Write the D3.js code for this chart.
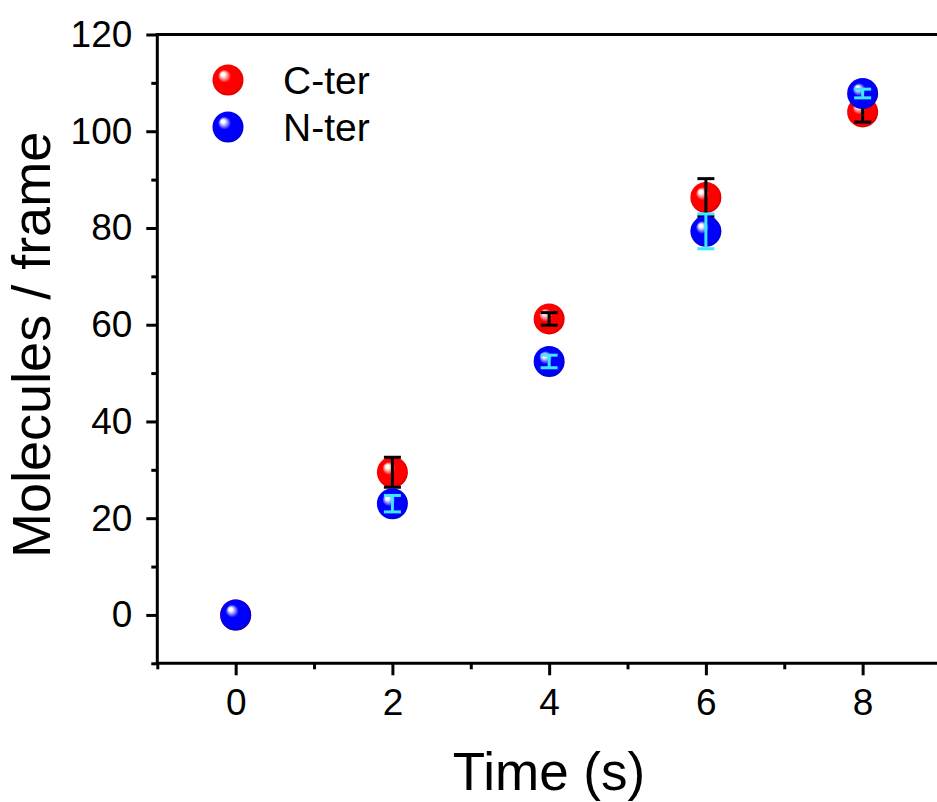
<!DOCTYPE html>
<html>
<head>
<meta charset="utf-8">
<script src="https://cdn.jsdelivr.net/npm/d3@7"></script>
<style>
  html, body { margin: 0; padding: 0; background: #fff; }
  svg { display: block; font-family: "Liberation Sans", Arial, sans-serif; }
</style>
</head>
<body>
<script>
// Time points (s)
const times = [0, 2, 4, 6, 8];
// C-terminal labelling: mean molecules per frame and error
const cterValues = [0, 29.5, 61.2, 86.3, 104.0];
const cterErrors = [0, 3.1, 1.3, 3.9, 2.1];
// N-terminal labelling
const nterValues = [0, 23.0, 52.4, 79.3, 107.8];
const nterErrors = [0, 1.7, 1.3, 3.6, 0.9];

const xTicks = [0, 2, 4, 6, 8];
const xMinorTicks = [-1, 1, 3, 5, 7, 9];
const yTicks = [0, 20, 40, 60, 80, 100, 120];
const yMinorTicks = [-10, 10, 30, 50, 70, 90, 110];

const seriesNames = ["C-ter", "N-ter"];

const W = 937, H = 802;
const svg = d3.select("body").append("svg").attr("width", W).attr("height", H);

const x = d3.scaleLinear().domain([-1, 9]).range([157.3, 941]);
const y = d3.scaleLinear().domain([-10, 120]).range([663.3, 34.5]);

// sphere-like gradients
const defs = svg.append("defs");
function sphere(id, base, edge) {
  const g = defs.append("radialGradient").attr("id", id)
    .attr("cx", "50%").attr("cy", "50%").attr("r", "55%")
    .attr("fx", "32%").attr("fy", "30%");
  g.append("stop").attr("offset", "0%").attr("stop-color", "#ffffff");
  g.append("stop").attr("offset", "10%").attr("stop-color", "#ffffff").attr("stop-opacity", 0.9);
  g.append("stop").attr("offset", "38%").attr("stop-color", base);
  g.append("stop").attr("offset", "80%").attr("stop-color", base);
  g.append("stop").attr("offset", "100%").attr("stop-color", edge);
}
sphere("gRed", "#ff0000", "#c80000");
sphere("gBlue", "#0000ff", "#0000b4");

const R = 15.5;
const capW = 8.5;

const cter = times.map((t, i) => ({ t, v: cterValues[i], e: cterErrors[i] }));
const nter = times.map((t, i) => ({ t, v: nterValues[i], e: nterErrors[i] }));

function drawMarkers(data, fill) {
  svg.append("g").selectAll("circle").data(data).join("circle")
    .attr("cx", d => x(d.t)).attr("cy", d => y(d.v)).attr("r", R)
    .attr("fill", fill);
}
function drawErrors(data, color) {
  const g = svg.append("g").attr("stroke", color).attr("stroke-width", 3).attr("fill", "none");
  const d0 = data.filter(d => d.e > 0);
  g.selectAll("line.v").data(d0).join("line").attr("class", "v")
    .attr("x1", d => x(d.t)).attr("x2", d => x(d.t))
    .attr("y1", d => y(d.v - d.e)).attr("y2", d => y(d.v + d.e));
  g.selectAll("line.t").data(d0).join("line").attr("class", "t")
    .attr("x1", d => x(d.t) - capW).attr("x2", d => x(d.t) + capW)
    .attr("y1", d => y(d.v + d.e)).attr("y2", d => y(d.v + d.e));
  g.selectAll("line.b").data(d0).join("line").attr("class", "b")
    .attr("x1", d => x(d.t) - capW).attr("x2", d => x(d.t) + capW)
    .attr("y1", d => y(d.v - d.e)).attr("y2", d => y(d.v - d.e));
}

drawMarkers(cter, "url(#gRed)");
drawErrors(cter, "#000000");
drawMarkers(nter, "url(#gBlue)");
drawErrors(nter, "#3fe6ff");

// axes
const axisStroke = 3;
const xAxis = svg.append("g").attr("transform", `translate(0,${y(-10)})`)
  .call(d3.axisBottom(x).tickValues(xTicks).tickSize(12).tickPadding(13).tickFormat(d3.format("d")));
const xMinor = svg.append("g").attr("transform", `translate(0,${y(-10)})`)
  .call(d3.axisBottom(x).tickValues(xMinorTicks).tickSize(6).tickFormat(""));
const yAxis = svg.append("g").attr("transform", `translate(${x(-1)},0)`)
  .call(d3.axisLeft(y).tickValues(yTicks).tickSize(11).tickPadding(14).tickFormat(d3.format("d")));
const yMinor = svg.append("g").attr("transform", `translate(${x(-1)},0)`)
  .call(d3.axisLeft(y).tickValues(yMinorTicks).tickSize(6).tickFormat(""));

[xAxis, xMinor, yAxis, yMinor].forEach(a => {
  a.select(".domain").remove();
  a.selectAll(".tick line").attr("stroke", "#000").attr("stroke-width", axisStroke);
  a.selectAll(".tick text").attr("fill", "#000").attr("font-size", 37)
    .attr("font-family", "'Liberation Sans', Arial, sans-serif");
});

// frame lines
const frame = svg.append("g").attr("stroke", "#000").attr("stroke-width", axisStroke)
  .attr("stroke-linecap", "square");
frame.append("line").attr("x1", x(-1)).attr("x2", x(9)).attr("y1", y(-10)).attr("y2", y(-10));
frame.append("line").attr("x1", x(-1)).attr("x2", x(-1)).attr("y1", y(-10)).attr("y2", y(120));
frame.append("line").attr("x1", x(-1)).attr("x2", x(9)).attr("y1", y(120)).attr("y2", y(120));
frame.append("line").attr("x1", x(9)).attr("x2", x(9)).attr("y1", y(-10)).attr("y2", y(120));

// axis titles
svg.append("text").attr("x", 549).attr("y", 790)
  .attr("text-anchor", "middle").attr("font-size", 53).attr("fill", "#000")
  .text("Time (s)");
svg.append("text")
  .attr("transform", `translate(50,${(y(-10) + y(120)) / 2 - 4}) rotate(-90)`)
  .attr("text-anchor", "middle").attr("font-size", 54).attr("fill", "#000")
  .text("Molecules / frame");

// legend
const legend = svg.append("g");
const legendFills = ["url(#gRed)", "url(#gBlue)"];
const legendY = [80, 127];
seriesNames.forEach((name, i) => {
  legend.append("circle").attr("cx", 228).attr("cy", legendY[i]).attr("r", R).attr("fill", legendFills[i]);
  legend.append("text").attr("x", 283).attr("y", legendY[i] + 14)
    .attr("font-size", 39).attr("fill", "#000").text(name);
});
</script>
</body>
</html>
